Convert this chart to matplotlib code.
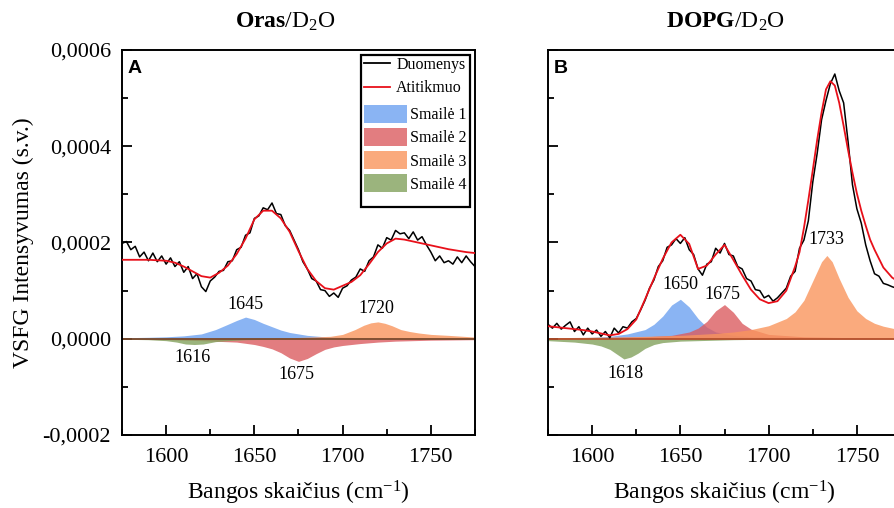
import numpy as np
import matplotlib.pyplot as plt
from matplotlib.patches import Patch, Rectangle
from matplotlib.lines import Line2D
from matplotlib.ticker import MultipleLocator, FuncFormatter

plt.rcParams['font.family'] = ['Liberation Serif', 'DejaVu Serif']
plt.rcParams['mathtext.fontset'] = 'custom'
plt.rcParams['mathtext.rm'] = 'Liberation Serif'
plt.rcParams['mathtext.it'] = 'Liberation Serif:italic'
plt.rcParams['mathtext.bf'] = 'Liberation Serif:bold'

SCALE = 1e-4  # all intensities below are in units of 1e-4

# ---- Oras / D2O ----
a_data_x = np.arange(1575, 1775.1, 2.5)
a_data_y = [1.98, 2.02, 1.85, 1.92, 1.70, 1.80, 1.62, 1.78, 1.60, 1.72,
            1.55, 1.68, 1.50, 1.60, 1.38, 1.50, 1.25, 1.35, 1.08, 0.98,
            1.20, 1.28, 1.40, 1.42, 1.60, 1.62, 1.85, 1.90, 2.15, 2.20,
            2.50, 2.55, 2.72, 2.68, 2.82, 2.60, 2.58, 2.35, 2.25, 2.05,
            1.85, 1.60, 1.45, 1.25, 1.20, 1.02, 1.00, 0.88, 0.95, 0.86,
            1.05, 1.10, 1.22, 1.28, 1.45, 1.40, 1.62, 1.70, 1.95, 1.88,
            2.10, 2.05, 2.25, 2.18, 2.20, 2.08, 2.22, 2.05, 2.12, 1.95,
            1.80, 1.62, 1.72, 1.58, 1.62, 1.55, 1.70, 1.58, 1.72, 1.60,
            1.50]
a_fit_x = np.arange(1575, 1775.1, 5)
a_fit_y = [1.64, 1.64, 1.64, 1.64, 1.63, 1.62, 1.58, 1.50, 1.40, 1.30,
           1.27, 1.37, 1.52, 1.76, 2.08, 2.48, 2.66, 2.66, 2.50, 2.22,
           1.82, 1.45, 1.20, 1.05, 1.02, 1.10, 1.18, 1.32, 1.55, 1.80,
           1.98, 2.08, 2.06, 2.02, 1.98, 1.94, 1.90, 1.86, 1.83, 1.80,
           1.78]
a_p1_x = [1575, 1590, 1600, 1610, 1620, 1628, 1635, 1640, 1645, 1650,
          1655, 1660, 1665, 1670, 1680, 1690, 1700, 1720, 1750, 1775]
a_p1_y = [0.02, 0.03, 0.04, 0.06, 0.10, 0.19, 0.30, 0.38, 0.45, 0.40,
          0.32, 0.25, 0.18, 0.13, 0.07, 0.04, 0.03, 0.02, 0.01, 0.01]
a_p2_x = [1575, 1600, 1620, 1640, 1650, 1655, 1660, 1665, 1670, 1675,
          1680, 1685, 1690, 1695, 1700, 1710, 1720, 1730, 1750, 1775]
a_p2_y = [-0.01, -0.02, -0.04, -0.07, -0.12, -0.16, -0.21, -0.29, -0.40, -0.47,
          -0.41, -0.31, -0.22, -0.17, -0.14, -0.10, -0.07, -0.05, -0.03, -0.02]
a_p3_x = [1575, 1620, 1650, 1670, 1685, 1693, 1700, 1707, 1712, 1716,
          1720, 1724, 1728, 1733, 1738, 1743, 1750, 1760, 1775]
a_p3_y = [0.00, 0.01, 0.01, 0.02, 0.04, 0.05, 0.09, 0.19, 0.28, 0.33,
          0.35, 0.32, 0.27, 0.19, 0.15, 0.12, 0.09, 0.07, 0.035]
a_p4_x = [1575, 1590, 1600, 1606, 1611, 1616, 1621, 1628, 1635, 1645,
          1660, 1680, 1775]
a_p4_y = [-0.01, -0.02, -0.04, -0.07, -0.11, -0.12, -0.11, -0.06, -0.04, -0.02,
          -0.01, 0.00, 0.00]
a_labels = ["1645", "1675", "1720", "1616"]
a_label_x = [1645, 1674, 1719, 1615]
a_label_y = [0.71, -0.75, 0.62, -0.40]

# ---- DOPG / D2O ----
b_data_x = np.arange(1575, 1775.1, 2.5)
b_data_y = [0.30, 0.22, 0.32, 0.20, 0.28, 0.35, 0.15, 0.25, 0.08, 0.22,
            0.10, 0.18, 0.05, 0.15, 0.02, 0.22, 0.12, 0.25, 0.22, 0.35,
            0.42, 0.60, 0.80, 1.05, 1.22, 1.50, 1.62, 1.90, 1.95, 2.08,
            1.98, 2.10, 1.85, 1.75, 1.45, 1.32, 1.55, 1.60, 1.88, 1.78,
            1.98, 1.75, 1.72, 1.50, 1.45, 1.25, 1.20, 1.02, 1.00, 0.85,
            0.90, 0.78, 0.85, 0.95, 1.05, 1.30, 1.40, 1.88, 2.05, 2.45,
            3.25, 3.85, 4.55, 4.95, 5.30, 5.50, 5.15, 4.90, 4.10, 3.20,
            2.70, 2.40, 1.95, 1.62, 1.35, 1.30, 1.15, 1.12, 1.08, 1.05,
            1.02]
b_fit_x = [1575, 1580, 1585, 1590, 1595, 1600, 1605, 1610, 1615, 1620,
           1625, 1630, 1635, 1640, 1645, 1650, 1655, 1660, 1665, 1670,
           1675, 1680, 1685, 1690, 1695, 1700, 1705, 1710, 1715, 1717.5,
           1720, 1722.5, 1725, 1727.5, 1730, 1732.5, 1735, 1737.5, 1740, 1742.5,
           1745, 1747.5, 1750, 1752.5, 1755, 1757.5, 1760, 1765, 1770, 1775]
b_fit_y = [0.26, 0.24, 0.22, 0.20, 0.18, 0.15, 0.11, 0.07, 0.10, 0.20,
           0.40, 0.82, 1.25, 1.66, 2.00, 2.16, 1.97, 1.45, 1.52, 1.75,
           1.95, 1.64, 1.32, 1.02, 0.82, 0.74, 0.78, 1.00, 1.50, 1.80,
           2.30, 2.88, 3.50, 4.13, 4.70, 5.18, 5.35, 5.26, 4.90, 4.42,
           3.92, 3.45, 3.02, 2.66, 2.35, 2.06, 1.85, 1.48, 1.27, 1.15]
b_p1_x = [1575, 1590, 1600, 1610, 1620, 1630, 1635, 1640, 1645, 1650,
          1655, 1660, 1665, 1670, 1680, 1690, 1700, 1720, 1750, 1775]
b_p1_y = [0.01, 0.02, 0.03, 0.05, 0.10, 0.19, 0.30, 0.47, 0.70, 0.82,
          0.66, 0.42, 0.24, 0.14, 0.07, 0.04, 0.03, 0.02, 0.01, 0.01]
b_p2_x = [1575, 1600, 1630, 1645, 1655, 1660, 1665, 1670, 1675, 1680,
          1685, 1690, 1700, 1720, 1750, 1775]
b_p2_y = [0.01, 0.02, 0.04, 0.07, 0.14, 0.22, 0.36, 0.58, 0.71, 0.55,
          0.32, 0.20, 0.09, 0.04, 0.02, 0.01]
b_p3_x = [1575, 1620, 1650, 1670, 1680, 1690, 1700, 1710, 1715, 1720,
          1725, 1730, 1733, 1736, 1740, 1745, 1750, 1755, 1760, 1765, 1775]
b_p3_y = [0.02, 0.04, 0.07, 0.11, 0.14, 0.19, 0.27, 0.42, 0.56, 0.80,
          1.20, 1.60, 1.73, 1.60, 1.25, 0.86, 0.58, 0.42, 0.32, 0.26, 0.18]
b_p4_x = [1575, 1590, 1600, 1605, 1610, 1614, 1618, 1622, 1626, 1630,
          1635, 1640, 1650, 1660, 1680, 1700, 1775]
b_p4_y = [-0.04, -0.07, -0.11, -0.15, -0.22, -0.32, -0.42, -0.38, -0.30, -0.20,
          -0.12, -0.08, -0.05, -0.04, -0.02, -0.01, 0.00]
b_labels = ["1650", "1675", "1733", "1618"]
b_label_x = [1650, 1674, 1733, 1619]
b_label_y = [1.12, 0.91, 2.06, -0.73]

peak_colors = ['#6da1f0', '#db5c60', '#f9955d', '#82a15c']
legend_names = ["Smailė 1", "Smailė 2", "Smailė 3", "Smailė 4"]


def draw_panel(ax, data_x, data_y, fit_x, fit_y, peaks, labels, lx, ly, base_color):
    for (px, py), c in zip(peaks, peak_colors):
        ax.fill_between(px, 0, np.array(py) * SCALE, color=c, alpha=0.8,
                        linewidth=0, zorder=1)
    ax.axhline(0, color=base_color, lw=1.3, zorder=2)
    ax.plot(data_x, np.array(data_y) * SCALE, color='black', lw=1.1, zorder=3)
    ax.plot(fit_x, np.array(fit_y) * SCALE, color='#e8101a', lw=1.3, zorder=4)
    for t, x, y in zip(labels, lx, ly):
        ax.text(x, y * SCALE, t, fontsize=13, ha='center', va='center', zorder=5)

    ax.set_xlim(1575, 1775)
    ax.set_ylim(-0.0002, 0.0006)
    ax.xaxis.set_major_locator(MultipleLocator(50))
    ax.xaxis.set_minor_locator(MultipleLocator(25))
    ax.yaxis.set_major_locator(MultipleLocator(0.0002))
    ax.yaxis.set_minor_locator(MultipleLocator(0.0001))
    ax.yaxis.set_major_formatter(FuncFormatter(lambda v, p: f"{v:.4f}".replace('.', ',')))
    ax.tick_params(which='both', direction='in', width=1.3, labelsize=16,
                   top=False, right=False)
    ax.tick_params(which='major', length=7)
    ax.tick_params(which='minor', length=4)
    ax.tick_params(axis='x', pad=9)
    ax.tick_params(axis='y', pad=8)
    for s in ax.spines.values():
        s.set_linewidth(1.4)
    ax.set_xlabel("Bangos skaičius (cm$^{-1}$)", fontsize=17)
    ax.xaxis.set_label_coords(0.5, -0.115)


fig = plt.figure(figsize=(8.95, 5.08), dpi=100)
ax_a = fig.add_axes([0.1363, 0.1437, 0.3944, 0.758])
ax_b = fig.add_axes([0.6123, 0.1437, 0.3944, 0.758])

draw_panel(ax_a, a_data_x, a_data_y, a_fit_x, a_fit_y,
           [(a_p1_x, a_p1_y), (a_p2_x, a_p2_y), (a_p3_x, a_p3_y), (a_p4_x, a_p4_y)],
           a_labels, a_label_x, a_label_y, '#7a4a2c')
draw_panel(ax_b, b_data_x, b_data_y, b_fit_x, b_fit_y,
           [(b_p1_x, b_p1_y), (b_p2_x, b_p2_y), (b_p3_x, b_p3_y), (b_p4_x, b_p4_y)],
           b_labels, b_label_x, b_label_y, '#b4502c')
ax_b.tick_params(axis='y', labelleft=False)

ax_a.set_ylabel("VSFG Intensyvumas (s.v.)", fontsize=17)
ax_a.yaxis.set_label_coords(-0.25, 0.5)

ax_a.text(0.462, 1.073, r"$\mathbf{Oras}$/D$_2$O", transform=ax_a.transAxes,
          fontsize=17, ha='center', va='center')
ax_b.text(0.504, 1.073, r"$\mathbf{DOPG}$/D$_2$O", transform=ax_b.transAxes,
          fontsize=17, ha='center', va='center')

for ax, letter in [(ax_a, "A"), (ax_b, "B")]:
    ax.text(0.015, 0.952, letter, transform=ax.transAxes, fontsize=14,
            fontweight='bold', family='Liberation Sans', ha='left', va='center')

# legend: line entries and filled-peak entries in one framed box
line_handles = [Line2D([], [], color='black', lw=1.3),
                Line2D([], [], color='#e8101a', lw=1.3)]
leg1 = ax_a.legend(line_handles, ["Duomenys", "Atitikmuo"], loc='upper left',
                   bbox_to_anchor=(0.677, 0.99), frameon=False, fontsize=11.5,
                   handlelength=1.6, handletextpad=0.4, labelspacing=0.45,
                   borderpad=0.2, borderaxespad=0)
ax_a.add_artist(leg1)
patch_handles = [Patch(facecolor=c, alpha=0.8, edgecolor='none') for c in peak_colors]
ax_a.legend(patch_handles, legend_names, loc='upper left',
            bbox_to_anchor=(0.677, 0.865), frameon=False, fontsize=11.5,
            handlelength=2.7, handleheight=1.35, handletextpad=0.2,
            labelspacing=0.3, borderpad=0.2, borderaxespad=0)
ax_a.add_patch(Rectangle((0.677, 0.592), 0.31, 0.395, transform=ax_a.transAxes,
                         fill=False, edgecolor='black', lw=1.6, zorder=6))

fig.savefig("out.png", dpi=100)
